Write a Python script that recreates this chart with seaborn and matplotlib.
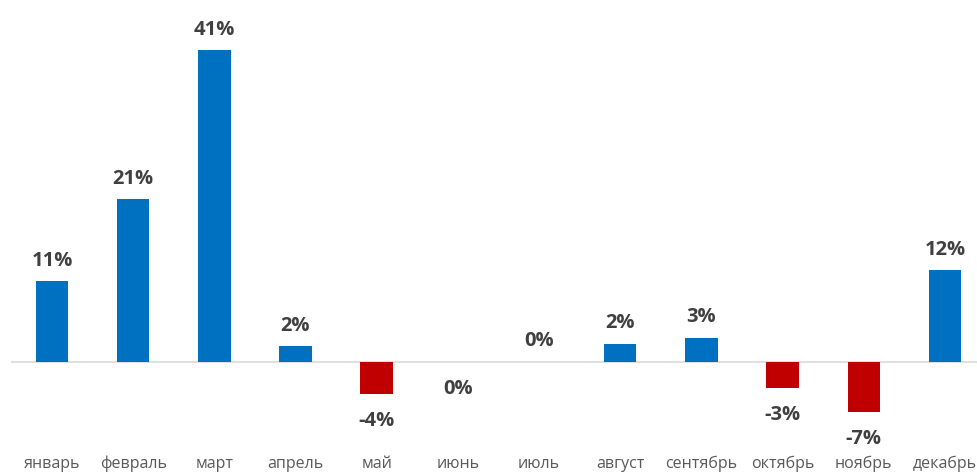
import pandas as pd
import matplotlib
matplotlib.use("Agg")
import matplotlib.pyplot as plt
import seaborn as sns

# данные: изменение по месяцам, %
months = ["январь", "февраль", "март", "апрель", "май", "июнь",
          "июль", "август", "сентябрь", "октябрь", "ноябрь", "декабрь"]
values = [10.6, 21.4, 41.0, 2.1, -4.2, -0.04, 0.04, 2.4, 3.2, -3.4, -6.6, 12.1]

BLUE = "#0070C0"
RED = "#C00000"

df = pd.DataFrame({"month": months, "value": values})
df["sign"] = ["pos" if v >= 0 else "neg" for v in values]

sns.set_style("white")
plt.rcParams["font.family"] = ["Open Sans", "DejaVu Sans"]

fig = plt.figure(figsize=(9.77, 4.72), dpi=100)
ax = fig.add_axes([0.0117, 0.0466, 0.997, 0.9534])

ax.axhline(0, color="#d9d9d9", lw=1.2, zorder=0)
sns.barplot(data=df, x="month", y="value", hue="sign",
            palette={"pos": BLUE, "neg": RED}, dodge=False, saturation=1,
            width=0.4, linewidth=0, legend=False, ax=ax)

ax.set_ylim(-11.58, 47.63)
ax.set_xlim(-0.5, 11.5)

# подписи значений
for i, v in enumerate(values):
    txt = f"{round(v):.0f}%"
    if v >= 0:
        ax.annotate(txt, (i, v), xytext=(0, 11), textcoords="offset points",
                    ha="center", va="baseline", fontsize=14.5, fontweight="bold",
                    color="#404040")
    else:
        ax.annotate(txt, (i, v), xytext=(0, -12), textcoords="offset points",
                    ha="center", va="top", fontsize=14.5, fontweight="bold",
                    color="#404040")

ax.set_xlabel("")
ax.set_ylabel("")
ax.set_yticks([])
ax.tick_params(axis="x", length=0, pad=4, labelsize=11.5, labelcolor="#595959")
sns.despine(ax=ax, left=True, bottom=True)

fig.savefig("out.png", dpi=100)
